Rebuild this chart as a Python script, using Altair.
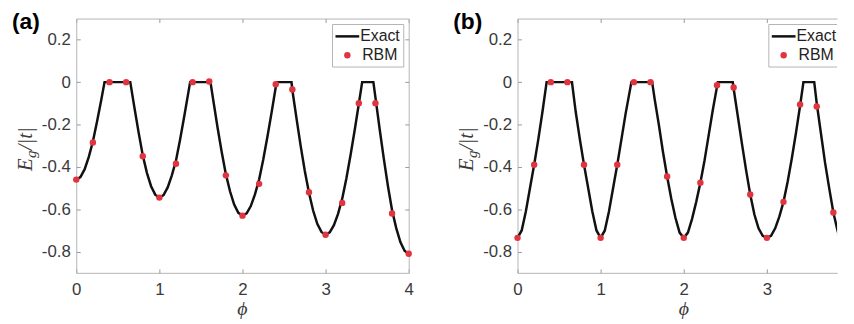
import altair as alt
import pandas as pd

# ---------------- data ----------------
# Panel (a): exact curve
PHI_A = [0.0, 0.05, 0.1, 0.15, 0.2, 0.25, 0.3, 0.34,
         0.65, 0.7, 0.75, 0.8, 0.85, 0.9, 0.95, 1.0,
         1.05, 1.1, 1.15, 1.2, 1.25, 1.3, 1.35, 1.37,
         1.615, 1.65, 1.7, 1.75, 1.8, 1.85, 1.9, 1.95, 2.0,
         2.05, 2.1, 2.15, 2.2, 2.25, 2.3, 2.35, 2.4, 2.41,
         2.59, 2.6, 2.65, 2.7, 2.75, 2.8, 2.85, 2.9, 2.95, 3.0,
         3.05, 3.1, 3.15, 3.2, 3.25, 3.3, 3.35, 3.4, 3.44,
         3.575, 3.6, 3.65, 3.7, 3.75, 3.8, 3.85, 3.9, 3.95, 4.0]
E_A = [-0.46, -0.448, -0.412, -0.354, -0.28, -0.186, -0.085, 0.0,
       0.0, -0.121, -0.237, -0.345, -0.428, -0.491, -0.531, -0.545,
       -0.533, -0.497, -0.44, -0.37, -0.27, -0.16, -0.046, 0.0,
       0.0, -0.089, -0.214, -0.33, -0.435, -0.515, -0.578, -0.617, -0.63,
       -0.619, -0.585, -0.53, -0.46, -0.365, -0.258, -0.144, -0.024, 0.0,
       0.0, -0.037, -0.171, -0.301, -0.419, -0.522, -0.606, -0.669, -0.707, -0.72,
       -0.709, -0.675, -0.622, -0.55, -0.455, -0.345, -0.227, -0.102, 0.0,
       0.0, -0.073, -0.22, -0.36, -0.49, -0.605, -0.689, -0.755, -0.796, -0.81]

# Panel (b): exact curve (cut at the right edge of the picture)
PHI_B = [0.0, 0.05, 0.1, 0.15, 0.2, 0.25, 0.3, 0.35,
         0.655, 0.7, 0.75, 0.8, 0.85, 0.9, 0.95, 1.0,
         1.05, 1.1, 1.15, 1.2, 1.25, 1.3, 1.37,
         1.62, 1.65, 1.7, 1.75, 1.8, 1.85, 1.9, 1.95, 2.0,
         2.05, 2.1, 2.15, 2.2, 2.25, 2.3, 2.35, 2.41,
         2.59, 2.6, 2.65, 2.7, 2.75, 2.8, 2.85, 2.9, 2.95, 3.0,
         3.05, 3.1, 3.15, 3.2, 3.25, 3.3, 3.35, 3.4, 3.44,
         3.57, 3.6, 3.65, 3.7, 3.75, 3.8, 3.85, 3.9, 3.95]
E_B = [-0.735, -0.70, -0.61, -0.50, -0.39, -0.27, -0.14, 0.0,
       0.0, -0.14, -0.27, -0.39, -0.50, -0.61, -0.70, -0.735,
       -0.70, -0.61, -0.50, -0.39, -0.27, -0.15, 0.0,
       0.0, -0.08, -0.20, -0.33, -0.445, -0.55, -0.64, -0.71, -0.735,
       -0.71, -0.645, -0.565, -0.475, -0.37, -0.25, -0.13, 0.0,
       0.0, -0.03, -0.16, -0.29, -0.415, -0.53, -0.625, -0.69, -0.725, -0.735,
       -0.725, -0.69, -0.635, -0.565, -0.47, -0.36, -0.24, -0.11, 0.0,
       0.0, -0.10, -0.24, -0.38, -0.50, -0.615, -0.70, -0.77, -0.80]

# RBM points
RBM_PHI_A = [0.0, 0.2, 0.4, 0.6, 0.8, 1.0, 1.2, 1.4, 1.6, 1.8, 2.0,
             2.2, 2.4, 2.6, 2.8, 3.0, 3.2, 3.4, 3.6, 3.8, 4.0]
RBM_A = [-0.46, -0.285, 0.0, 0.0, -0.35, -0.545, -0.385, 0.0, 0.003, -0.44, -0.63,
         -0.48, -0.01, -0.035, -0.52, -0.72, -0.57, -0.1, -0.1, -0.62, -0.81]
RBM_PHI_B = [0.0, 0.2, 0.4, 0.6, 0.8, 1.0, 1.2, 1.4, 1.6, 1.8, 2.0,
             2.2, 2.4, 2.6, 2.8, 3.0, 3.2, 3.4, 3.6, 3.8]
RBM_B = [-0.735, -0.39, 0.0, 0.0, -0.39, -0.735, -0.39, 0.0, 0.0, -0.445, -0.735,
         -0.475, -0.015, -0.025, -0.53, -0.735, -0.565, -0.105, -0.115, -0.615]

X_TICKS_A = [0, 1, 2, 3, 4]
X_TICKS_B = [0, 1, 2, 3]
Y_TICKS = [-0.8, -0.6, -0.4, -0.2, 0, 0.2]
Y_DOMAIN = [-0.9, 0.3]
X_MAX_A = 4.0
X_MAX_B = 3.845          # panel (b) is cut by the picture's right edge
PANEL_LABELS = ["(a)", "(b)"]
LEGEND_LABELS = ["Exact", "RBM"]

# ---------------- style ----------------
PX_PER_UNIT = 84
H = 257
FRAME = "#b4b4b4"
TICK = "#9a9a9a"
LABEL = "#3a3a3a"
RED = "#e2343f"
SANS = "Liberation Sans"
SERIF = "Liberation Serif"
YLABEL_EXPR = ("abs(datum.value) < 1e-9 ? '0' : "
               "replace(format(datum.value, '.1f'), '\u2212', '-')")

ONE = pd.DataFrame({"k": [0]})


def panel(phi, e, rphi, re, xmax, xticks, label, full_box, leg_dx):
    W = round(xmax * PX_PER_UNIT)
    xs = alt.Scale(domain=[0, xmax], nice=False, zero=False)
    ys = alt.Scale(domain=Y_DOMAIN, nice=False, zero=False)
    line_df = pd.DataFrame({"phi": phi, "E": e})
    pts_df = pd.DataFrame({"phi": rphi, "E": re})

    main_x = alt.Axis(orient="bottom", values=xticks, format="d", title=None,
                      ticks=False, tickSize=0, labelPadding=9, labelFont=SANS,
                      labelFontSize=17, labelColor=LABEL, domainColor=FRAME,
                      domainWidth=1, grid=False, labelFlush=False,
                      labelOverlap=False)
    main_y = alt.Axis(orient="left", values=Y_TICKS, labelExpr=YLABEL_EXPR,
                      title=None, ticks=False, tickSize=0, labelPadding=6,
                      labelFont=SANS, labelFontSize=17, labelColor=LABEL,
                      domainColor=FRAME, domainWidth=1, grid=False,
                      labelOverlap=False)
    frame_x = alt.Axis(orient="top", values=xticks, title=None, labels=False,
                       ticks=False, domainColor=FRAME, domainWidth=1, grid=False)
    frame_y = (alt.Axis(orient="right", values=Y_TICKS, title=None, labels=False,
                        ticks=False, domainColor=FRAME, domainWidth=1, grid=False)
               if full_box else None)

    def tick_axis(orient, values, offset):
        return alt.Axis(orient=orient, values=values, offset=offset, title=None,
                        labels=False, domain=False, ticks=True, tickSize=4,
                        tickColor=TICK, tickWidth=1, grid=False)

    curve = alt.Chart(line_df).mark_line(color="#111111", strokeWidth=2.5,
                                         clip=True).encode(
        x=alt.X("phi:Q", scale=xs, axis=main_x),
        y=alt.Y("E:Q", scale=ys, axis=main_y),
    )
    dots = alt.Chart(pts_df).mark_point(filled=True, color=RED, size=42,
                                        opacity=1).encode(
        x=alt.X("phi:Q", scale=xs, axis=frame_x),
        y=alt.Y("E:Q", scale=ys, axis=frame_y),
    )
    ticks_1 = alt.Chart(line_df).mark_line(strokeOpacity=0).encode(
        x=alt.X("phi:Q", scale=xs, axis=tick_axis("top", xticks, -H)),
        y=alt.Y("E:Q", scale=ys, axis=tick_axis("right", Y_TICKS, -W)),
    )
    ticks_2 = alt.Chart(line_df).mark_line(strokeOpacity=0).encode(
        x=alt.X("phi:Q", scale=xs, axis=tick_axis("bottom", xticks, -H)),
        y=alt.Y("E:Q", scale=ys,
                axis=tick_axis("left", Y_TICKS, -W) if full_box else None),
    )

    # legend (drawn as marks, MATLAB style box)
    lx0, lx1, ly0, ly1 = 259 + leg_dx, 331 + leg_dx, 6, 49
    if full_box:
        box = alt.Chart(ONE).mark_rect(fill="white", stroke=FRAME,
                                       strokeWidth=1).encode(
            x=alt.value(lx0), x2=alt.value(lx1),
            y=alt.value(ly0), y2=alt.value(ly1))
        box_layers = [box]
    else:
        bg = alt.Chart(ONE).mark_rect(fill="white").encode(
            x=alt.value(lx0), x2=alt.value(W), y=alt.value(ly0), y2=alt.value(ly1))
        top = alt.Chart(ONE).mark_rule(color=FRAME, strokeWidth=1).encode(
            x=alt.value(lx0), x2=alt.value(W), y=alt.value(ly0))
        bot = alt.Chart(ONE).mark_rule(color=FRAME, strokeWidth=1).encode(
            x=alt.value(lx0), x2=alt.value(W), y=alt.value(ly1))
        left = alt.Chart(ONE).mark_rule(color=FRAME, strokeWidth=1).encode(
            x=alt.value(lx0), y=alt.value(ly0), y2=alt.value(ly1))
        box_layers = [bg, top, bot, left]
    leg_line = alt.Chart(ONE).mark_rule(color="#111111", strokeWidth=2.5).encode(
        x=alt.value(262 + leg_dx), x2=alt.value(286 + leg_dx), y=alt.value(18))
    leg_dot = alt.Chart(ONE).mark_point(filled=True, color=RED, size=42,
                                        opacity=1).encode(
        x=alt.value(274 + leg_dx), y=alt.value(37))
    leg_t1 = alt.Chart(ONE).mark_text(text=LEGEND_LABELS[0], align="left",
                                      baseline="middle", font=SANS, fontSize=16,
                                      color="#222222").encode(
        x=alt.value(287 + leg_dx), y=alt.value(18))
    leg_t2 = alt.Chart(ONE).mark_text(text=LEGEND_LABELS[1], align="left",
                                      baseline="middle", font=SANS, fontSize=16,
                                      color="#222222").encode(
        x=alt.value(289 + leg_dx), y=alt.value(37))

    # panel label and axis titles
    plabel = alt.Chart(ONE).mark_text(text=label, align="left",
                                      baseline="alphabetic", font=SANS,
                                      fontWeight="bold", fontSize=23,
                                      color="black").encode(
        x=alt.value(-65), y=alt.value(11))

    def ytxt(t, size, x, y):
        return alt.Chart(ONE).mark_text(text=t, angle=270, align="left",
                                        baseline="alphabetic", font=SERIF,
                                        fontStyle="italic", fontSize=size,
                                        color=LABEL).encode(
            x=alt.value(x), y=alt.value(y))

    yt = [ytxt("E", 21, -45, 154), ytxt("g", 15, -41, 141),
          ytxt("/|t|", 21, -45, 133)]
    xt = alt.Chart(ONE).mark_text(text="\u03d5", align="center",
                                  baseline="alphabetic", font=SERIF,
                                  fontStyle="italic", fontSize=20,
                                  color=LABEL).encode(
        x=alt.value(168), y=alt.value(300))

    layers = [curve, dots, ticks_1, ticks_2] + box_layers + \
        [leg_line, leg_dot, leg_t1, leg_t2, plabel, xt] + yt
    return alt.layer(*layers).resolve_axis(x="independent", y="independent") \
        .properties(width=W, height=H)


pa = panel(PHI_A, E_A, RBM_PHI_A, RBM_A, X_MAX_A, X_TICKS_A, PANEL_LABELS[0],
           True, 0)
pb = panel(PHI_B, E_B, RBM_PHI_B, RBM_B, X_MAX_B, X_TICKS_B, PANEL_LABELS[1],
           False, -5)

chart = alt.hconcat(pa, pb, spacing=110, bounds="flush").properties(
    padding={"left": 4, "top": 2, "right": 0, "bottom": 0},
    background="white",
).configure_view(stroke=None)

chart.save("out.html", embed_options={"renderer": "svg", "actions": False})
